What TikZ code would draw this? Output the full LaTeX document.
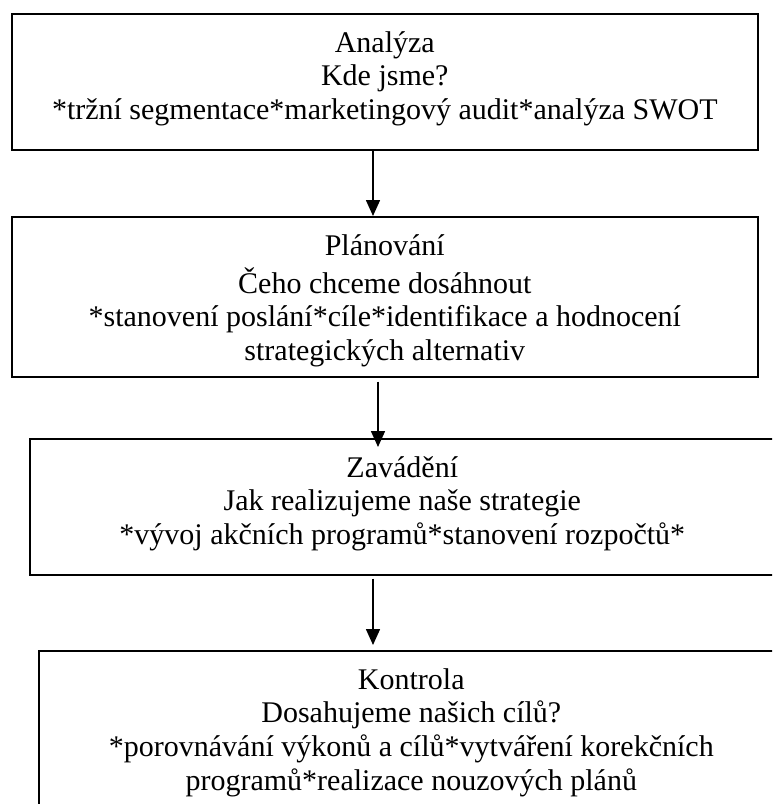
\documentclass[tikz,border=0pt]{standalone}
\usepackage{fontspec}
\setmainfont{Liberation Serif}
\usepackage{tikz}
\usetikzlibrary{arrows.meta}

\tikzset{stage/.style={draw=black, thick, inner sep=0, anchor=north west,
  font=\fontsize{15pt}{16.8pt}\selectfont}}
\newcommand{\stagetext}[3]{\parbox[c][#2][t]{#1}{\centering\vspace*{7.5pt}\strut #3}}

\begin{document}
\begin{tikzpicture} [x=0.5pt, y=-0.5pt]
\useasboundingbox (0,0) rectangle (772,804);
\clip (0,0) rectangle (772,804);

\node[stage] (analyza) at (11,13) {\stagetext{373pt}{68pt}{Analýza\\Kde jsme?\\{}*tržní segmentace*marketingový audit*analýza SWOT}};
\node[stage] (planovani) at (11,216) {\stagetext{373pt}{80pt}{Plánování\\Čeho chceme dosáhnout\\{}*stanovení poslání*cíle*identifikace a hodnocení\\strategických alternativ}};
\node[stage] (zavadeni) at (29,438) {\stagetext{372.5pt}{68pt}{Zavádění\\Jak realizujeme naše strategie\\{}*vývoj akčních programů*stanovení rozpočtů*}};
\node[stage] (kontrola) at (38,650) {\stagetext{372.5pt}{85pt}{Kontrola\\Dosahujeme našich cílů?\\{}*porovnávání výkonů a cílů*vytváření korekčních\\programů*realizace nouzových plánů}};

\draw[black, thick, ->, >={Triangle[length=8pt, width=7pt]}] (analyza.south -| 373,0) -- (planovani.north -| 373,0);
\draw[black, thick, ->, >={Triangle[length=8pt, width=7pt]}, shorten <=2pt, shorten >=-4.5pt] (planovani.south -| 378,0) -- (zavadeni.north -| 378,0);
\draw[black, thick, ->, >={Triangle[length=8pt, width=7pt]}, shorten <=1.5pt, shorten >=2.5pt] (zavadeni.south -| 373,0) -- (kontrola.north -| 373,0);
\end{tikzpicture}
\end{document}
